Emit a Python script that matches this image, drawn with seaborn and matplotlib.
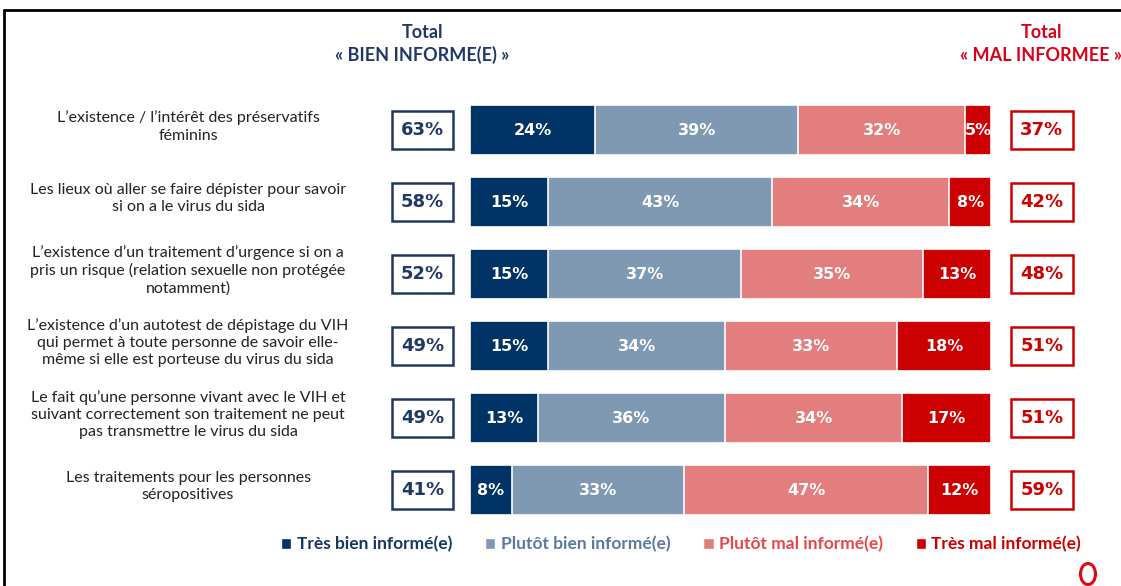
"""
Stacked horizontal bars: level of information on HIV prevention topics
"""
import pandas as pd
import matplotlib.pyplot as plt
import seaborn as sns
from matplotlib.patches import Patch, Rectangle, Ellipse
from matplotlib.lines import Line2D

# Data
items = [
    "L’existence / l’intérêt des préservatifs\nféminins",
    "Les lieux où aller se faire dépister pour savoir\nsi on a le virus du sida",
    "L’existence d’un traitement d’urgence si on a\npris un risque (relation sexuelle non protégée\nnotamment)",
    "L’existence d’un autotest de dépistage du VIH\nqui permet à toute personne de savoir elle-\nmême si elle est porteuse du virus du sida",
    "Le fait qu’une personne vivant avec le VIH et\nsuivant correctement son traitement ne peut\npas transmettre le virus du sida",
    "Les traitements pour les personnes\nséropositives",
]
tres_bien = [24, 15, 15, 15, 13, 8]
plutot_bien = [39, 43, 37, 34, 36, 33]
plutot_mal = [32, 34, 35, 33, 34, 47]
tres_mal = [5, 8, 13, 18, 17, 12]
total_bien = [63, 58, 52, 49, 49, 41]
total_mal = [37, 42, 48, 51, 51, 59]

series = ["Très bien informé(e)", "Plutôt bien informé(e)",
          "Plutôt mal informé(e)", "Très mal informé(e)"]
bar_colors = ["#003366", "#7F99B2", "#E37E7E", "#CC0000"]
legend_text_colors = ["#17375E", "#5B7A9C", "#E8474C", "#CC0000"]
navy = "#1F3864"
red = "#D9001B"

df = pd.DataFrame({"item": items, series[0]: tres_bien, series[1]: plutot_bien,
                   series[2]: plutot_mal, series[3]: tres_mal})

sns.set_theme(style="white")
plt.rcParams["font.family"] = ["Lato", "DejaVu Sans"]

fig = plt.figure(figsize=(11.21, 5.86), dpi=100)
ax = fig.add_axes([0, 0, 1, 1])

# Stacked bars: draw cumulative totals, longest first
cum = df[series].cumsum(axis=1)
for j in range(len(series) - 1, -1, -1):
    sns.barplot(x=cum[series[j]], y=df["item"], orient="h", color=bar_colors[j],
                width=0.7, saturation=1, errorbar=None, edgecolor="white",
                linewidth=1.2, ax=ax)

# Segment labels
for i in range(len(items)):
    left = 0
    for s in series:
        val = df.loc[i, s]
        ax.text(left + val / 2, i, f"{val}%", ha="center", va="center",
                color="white", fontweight="bold", fontsize=11.5,
                family="DejaVu Sans")
        left += val

# Item labels and total boxes
for i, label in enumerate(items):
    ax.text(-54.1, i - 0.05, label, ha="center", va="center", fontsize=11.5,
            linespacing=1.3, color="#222222")
    ax.add_patch(Rectangle((-14.97, i - 0.265), 11.7, 0.53, facecolor="white",
                           edgecolor=navy, lw=1.8, clip_on=False))
    ax.text(-9.1, i, f"{total_bien[i]}%", ha="center", va="center",
            fontsize=13, color=navy, family="DejaVu Sans", fontweight="semibold")
    ax.add_patch(Rectangle((103.8, i - 0.265), 11.9, 0.53, facecolor="white",
                           edgecolor="#CC0000", lw=1.8, clip_on=False))
    ax.text(109.75, i, f"{total_mal[i]}%", ha="center", va="center",
            fontsize=13, color="#CC0000", family="DejaVu Sans",
            fontweight="semibold")

# Column headers
ax.text(-9.2, -1.36, "Total", ha="center", va="center", fontsize=13,
        fontweight="bold", color=navy)
ax.text(-9.2, -1.04, "« BIEN INFORME(E) »", ha="center", va="center",
        fontsize=13, fontweight="bold", color=navy)
ax.text(109.6, -1.36, "Total", ha="center", va="center", fontsize=13,
        fontweight="bold", color=red)
ax.text(109.6, -1.04, "« MAL INFORMEE »", ha="center", va="center",
        fontsize=13, fontweight="bold", color=red)

ax.set_xlim(-90.2, 124.95)
ax.set_ylim(6.333, -1.806)
ax.axis("off")

# Legend
handles = [Patch(facecolor=c) for c in bar_colors]
fig.legend(handles, series, loc="center", bbox_to_anchor=(681 / 1121, 1 - 544 / 586),
           ncol=4, frameon=False, handlelength=0.6, handleheight=0.6,
           handletextpad=0.3, columnspacing=1.9,
           prop={"family": "Lato", "weight": "bold", "size": 12.5},
           labelcolor=legend_text_colors)

# Frame and small logo
fig.add_artist(Line2D([4 / 1121, 4 / 1121], [0, 1 - 10 / 586],
                      transform=fig.transFigure, color="black", lw=2))
fig.add_artist(Line2D([4 / 1121, 1], [1 - 10 / 586, 1 - 10 / 586],
                      transform=fig.transFigure, color="black", lw=2))
fig.add_artist(Ellipse((1088 / 1121, 1 - 574 / 586), 15 / 1121, 21 / 586,
                       transform=fig.transFigure, fill=False,
                       edgecolor="#E30613", lw=2.2))

fig.savefig("out.png", dpi=100)
